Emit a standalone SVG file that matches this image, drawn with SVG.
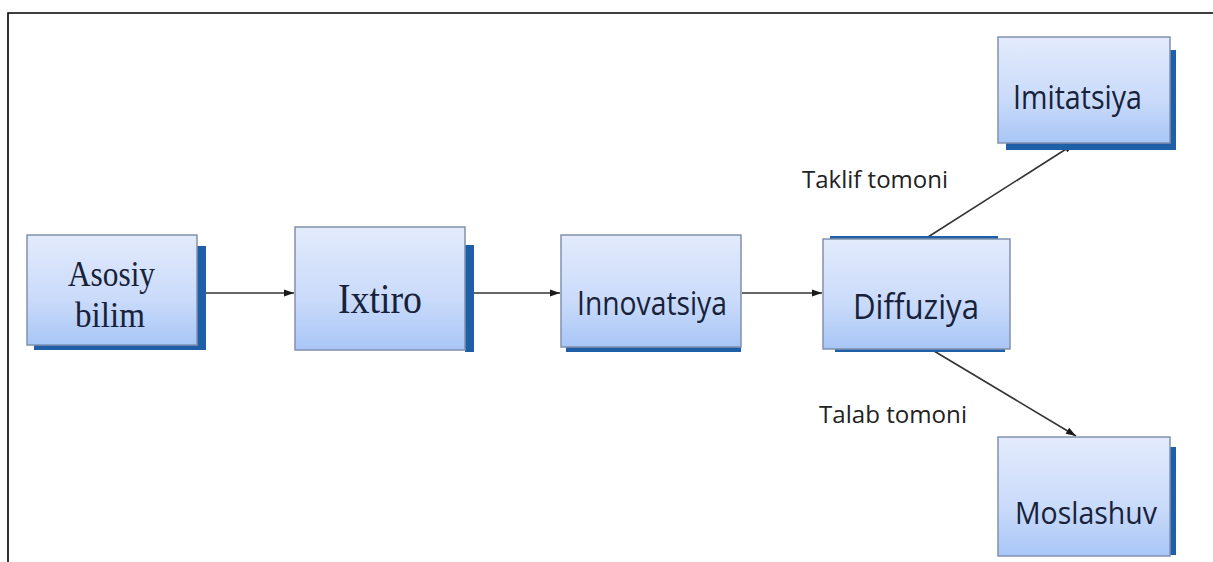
<svg xmlns="http://www.w3.org/2000/svg" width="1213" height="562" viewBox="0 0 1213 562">
  <defs>
    <linearGradient id="boxFill" x1="0" y1="0" x2="0" y2="1">
      <stop offset="0" stop-color="#e3ebfc"/>
      <stop offset="0.6" stop-color="#c9dafa"/>
      <stop offset="1" stop-color="#a8c6f6"/>
    </linearGradient>
    <marker id="arrow" viewBox="0 0 10 10" refX="10" refY="5" markerWidth="11" markerHeight="10" markerUnits="userSpaceOnUse" orient="auto">
      <path d="M0,1.5 L10,5 L0,8.5 Z" fill="#1a1a1a"/>
    </marker>
    <style>
      .box { fill: url(#boxFill); stroke: #8391ad; stroke-width: 1.5; }
      .shadow { fill: #1f5fa8; }
      .edge { fill: none; stroke: #333333; stroke-width: 1.6; marker-end: url(#arrow); }
      .serif { font-family: "Liberation Serif", "Times New Roman", serif; fill: #17223a; }
      .sans { font-family: "Open Sans", "Noto Sans", "Liberation Sans", sans-serif; fill: #17223a; }
      .label { font-family: "Open Sans", "Noto Sans", "Liberation Sans", sans-serif; fill: #222222; font-size: 24px; }
    </style>
  </defs>

  <rect width="1213" height="562" fill="#ffffff"/>

  <!-- page frame -->
  <path d="M8,562 V13 H1213" fill="none" stroke="#000000" stroke-width="1.6"/>

  <!-- connectors -->
  <g id="connectors">
    <line class="edge" x1="198" y1="293" x2="294" y2="293"/>
    <line class="edge" x1="466" y1="293" x2="560" y2="293"/>
    <line class="edge" x1="742" y1="293" x2="822" y2="293"/>
    <line class="edge" x1="928" y1="237" x2="1074" y2="144"/>
    <line class="edge" x1="934" y1="351" x2="1076" y2="436"/>
  </g>

  <!-- edge labels -->
  <g id="labels">
    <text class="label" x="802" y="188" textLength="146" lengthAdjust="spacingAndGlyphs">Taklif tomoni</text>
    <text class="label" x="819" y="423" textLength="148" lengthAdjust="spacingAndGlyphs">Talab tomoni</text>
  </g>

  <g id="asosiy-bilim">
    <rect class="shadow" x="197" y="246" width="9" height="104"/>
    <rect class="shadow" x="34" y="345" width="172" height="5"/>
    <rect class="box" x="27" y="235" width="170" height="110"/>
    <text class="serif" x="68" y="286" font-size="35" textLength="87" lengthAdjust="spacingAndGlyphs">Asosiy</text>
    <text class="serif" x="75" y="327" font-size="35" textLength="70" lengthAdjust="spacingAndGlyphs">bilim</text>
  </g>

  <g id="ixtiro">
    <rect class="shadow" x="465" y="245" width="9" height="107"/>
    <rect class="box" x="295" y="227" width="170" height="123"/>
    <text class="serif" x="338" y="313" font-size="42" textLength="84" lengthAdjust="spacingAndGlyphs">Ixtiro</text>
  </g>

  <g id="innovatsiya">
    <rect class="shadow" x="566" y="346" width="175" height="6"/>
    <rect class="box" x="561" y="235" width="180" height="112"/>
    <text class="sans" x="577" y="315" font-size="33" textLength="150" lengthAdjust="spacingAndGlyphs">Innovatsiya</text>
  </g>

  <g id="diffuziya">
    <rect class="shadow" x="830" y="236" width="168" height="4" fill="#2c4e7a"/>
    <rect class="shadow" x="835" y="348" width="170" height="4"/>
    <rect class="box" x="823" y="239" width="187" height="110"/>
    <text class="sans" x="853" y="319" font-size="35" textLength="126" lengthAdjust="spacingAndGlyphs">Diffuziya</text>
  </g>

  <g id="imitatsiya">
    <rect class="shadow" x="1170" y="50" width="6" height="100"/>
    <rect class="shadow" x="1006" y="143" width="170" height="7"/>
    <rect class="box" x="998" y="37" width="172" height="106"/>
    <text class="sans" x="1013" y="109" font-size="32" textLength="129" lengthAdjust="spacingAndGlyphs">Imitatsiya</text>
  </g>

  <g id="moslashuv">
    <rect class="shadow" x="1170" y="447" width="6" height="108"/>
    <rect class="box" x="998" y="437" width="172" height="119"/>
    <text class="sans" x="1015" y="524" font-size="31" textLength="142" lengthAdjust="spacingAndGlyphs">Moslashuv</text>
  </g>
</svg>
